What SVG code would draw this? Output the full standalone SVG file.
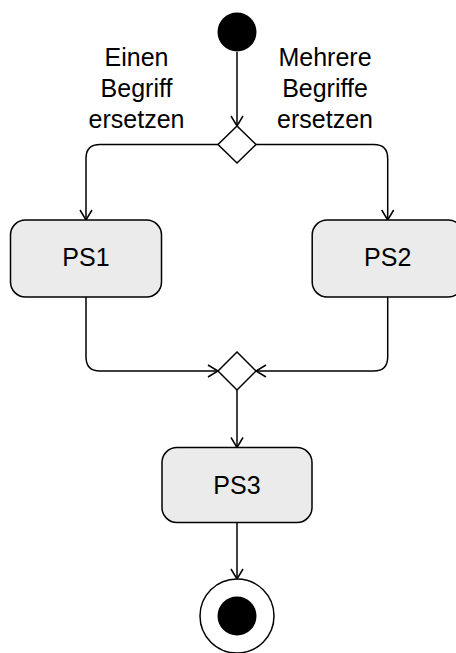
<svg xmlns="http://www.w3.org/2000/svg" width="456" height="653" viewBox="0 0 456 653">
<defs>
<marker id="arr" viewBox="0 0 12 14" refX="11" refY="7" markerWidth="12" markerHeight="14" markerUnits="userSpaceOnUse" orient="auto">
<path d="M1,1 L11,7 L1,13" fill="none" stroke="#000" stroke-width="1.5"/>
</marker>
</defs>
<style>
.box{fill:#ebebeb;stroke:#000;stroke-width:1.5}
.dia{fill:#fff;stroke:#000;stroke-width:1.5}
.edge{fill:none;stroke:#000;stroke-width:1.5;marker-end:url(#arr)}
.lbl{font-family:"Liberation Sans",Arial,sans-serif;font-size:25px;fill:#000;text-anchor:middle}
</style>
<rect width="456" height="653" fill="#fff"/>
<g id="connectors">
<path class="edge" d="M237,52 L237,126"/>
<path class="edge" d="M218,144.5 L100,144.5 Q86,144.5 86,158.5 L86,220"/>
<path class="edge" d="M256,144.5 L373.7,144.5 Q387.7,144.5 387.7,158.5 L387.7,220"/>
<path class="edge" d="M86,297 L86,357 Q86,371 100,371 L218,371"/>
<path class="edge" d="M387.7,297 L387.7,357 Q387.7,371 373.7,371 L256,371"/>
<path class="edge" d="M237,390 L237,447.5"/>
<path class="edge" d="M237,522.5 L237,579"/>
</g>
<g id="start"><circle cx="237" cy="32" r="19.5" fill="#000"/></g>
<g id="decision"><path class="dia" d="M237,126 L256,144.5 L237,163 L218,144.5 Z"/></g>
<g id="label-left">
<text class="lbl" x="136.5" y="66">Einen</text>
<text class="lbl" x="136.5" y="97">Begriff</text>
<text class="lbl" x="136.5" y="128">ersetzen</text>
</g>
<g id="label-right">
<text class="lbl" x="325" y="66">Mehrere</text>
<text class="lbl" x="325" y="97">Begriffe</text>
<text class="lbl" x="325" y="128">ersetzen</text>
</g>
<g id="ps1"><rect class="box" x="10.5" y="220" width="151" height="77" rx="15"/><text class="lbl" x="86" y="266">PS1</text></g>
<g id="ps2"><rect class="box" x="312.2" y="220" width="151" height="77" rx="15"/><text class="lbl" x="387.7" y="266">PS2</text></g>
<g id="merge"><path class="dia" d="M237,352 L256,371 L237,390 L218,371 Z"/></g>
<g id="ps3"><rect class="box" x="162" y="447.5" width="150" height="75" rx="15"/><text class="lbl" x="237" y="494">PS3</text></g>
<g id="end"><circle cx="237" cy="616" r="37" fill="#fff" stroke="#000" stroke-width="1.5"/><circle cx="237" cy="616" r="19.5" fill="#000"/></g>
</svg>
